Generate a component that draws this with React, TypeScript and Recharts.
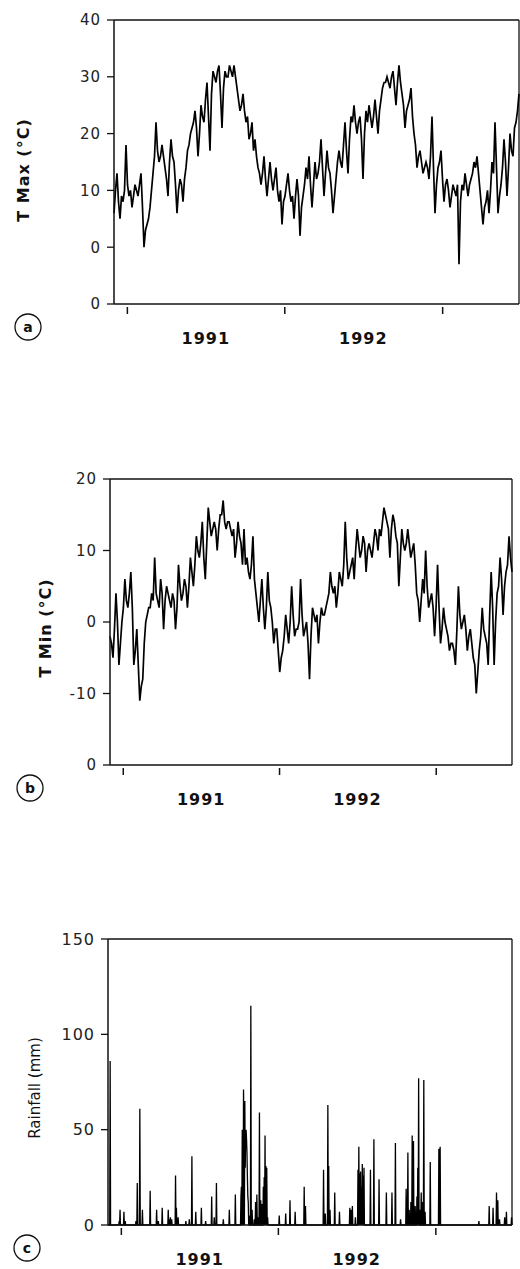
import { LineChart, Line, XAxis, YAxis, ReferenceLine } from 'recharts';

// record runs from 1 Dec 1990, one slot per day
const DAYS = 940;
const yearStartDays = [31, 396, 762];
const yearLabelDays = [213, 578];
const yearLabels = ['1991', '1992'];

// max temperature at even spacing (about 1.5 px apart)
const tmax = [
  6, 10, 13, 8, 5, 9, 8, 10, 18, 11, 9, 10, 7, 9, 11, 10, 9, 11, 13, 7,
  0, 3, 4, 5, 7, 10, 13, 16, 22, 17, 15, 16, 18, 16, 14, 12, 9, 15, 19, 16,
  15, 11, 6, 10, 12, 11, 8, 12, 14, 17, 18, 20, 21, 22, 24, 21, 16, 20, 25, 23,
  22, 26, 29, 23, 17, 27, 31, 30, 29, 31, 32, 27, 21, 28, 31, 30, 30, 32, 31, 30,
  32, 30, 28, 26, 24, 25, 27, 24, 22, 23, 19, 20, 22, 17, 19, 16, 14, 13, 11, 13,
  16, 12, 9, 12, 15, 12, 10, 12, 14, 10, 8, 10, 4, 8, 9, 11, 13, 10, 8, 9,
  5, 9, 12, 9, 2, 7, 9, 11, 14, 12, 16, 11, 7, 11, 15, 12, 13, 15, 19, 14,
  9, 13, 17, 14, 13, 10, 6, 9, 12, 15, 17, 15, 14, 18, 22, 17, 13, 19, 23, 22,
  25, 22, 20, 22, 23, 19, 12, 20, 24, 22, 25, 23, 21, 23, 26, 23, 20, 24, 26, 28,
  29, 29, 30, 29, 28, 30, 31, 28, 25, 29, 32, 29, 27, 25, 21, 24, 25, 26, 28, 23,
  20, 18, 14, 16, 17, 15, 13, 14, 15, 14, 12, 16, 23, 14, 6, 11, 14, 15, 17, 12,
  8, 11, 12, 10, 7, 9, 11, 10, 9, 11, -3, 8, 11, 10, 13, 11, 9, 11, 12, 13,
  15, 14, 16, 13, 10, 7, 4, 7, 8, 10, 6, 10, 15, 13, 22, 14, 6, 9, 11, 14,
  19, 15, 9, 14, 20, 17, 16, 21, 22, 24, 27,
];

// min temperature, same spacing
const tmin = [
  -2, -3, -5, -1, 4, 0, -6, -3, 0, 2, 6, 3, 2, 4, 7, 2, -6, -4, -1, -6,
  -11, -9, -8, -3, 0, 1, 2, 2, 4, 3, 9, 4, 3, 2, 6, 4, -1, 3, 5, 4,
  3, 2, 4, 3, -1, 2, 8, 5, 3, 4, 6, 5, 2, 5, 9, 7, 5, 8, 12, 10,
  9, 11, 14, 9, 6, 11, 16, 14, 12, 13, 14, 13, 10, 13, 15, 15, 17, 14, 13, 14,
  14, 13, 12, 13, 9, 11, 14, 12, 11, 8, 13, 8, 9, 7, 6, 8, 12, 6, 4, 2,
  0, 3, 6, 2, -1, 2, 7, 3, 2, 0, -3, -1, -1, -4, -7, -5, -4, -2, 1, -1,
  -3, 0, 5, 1, -2, -1, -1, 0, 6, 1, -2, -1, 0, -3, -8, -2, 2, 1, 0, 1,
  -3, 0, 2, 1, 1, 2, 3, 4, 7, 5, 4, 5, 2, 4, 7, 6, 5, 8, 14, 9,
  6, 7, 8, 9, 6, 10, 13, 11, 9, 10, 12, 11, 7, 10, 11, 10, 9, 11, 13, 12,
  10, 13, 12, 14, 16, 15, 14, 13, 9, 13, 15, 14, 12, 11, 5, 9, 13, 11, 10, 11,
  13, 11, 9, 10, 11, 8, 4, 3, 0, 3, 6, 4, 10, 5, 2, 3, 4, 2, -2, 2,
  8, 2, -3, -1, 2, 0, -1, -2, -4, -3, -3, -4, -6, -1, 5, 1, -1, 0, 1, -1,
  -4, -2, -1, -3, -5, -6, -10, -7, -4, -2, 2, -1, -2, -3, -6, 1, 7, 2, -6, 0,
  4, 5, 9, 6, 1, 5, 7, 8, 12, 9, 7,
];

// rain days (day index from 1 Dec 1990) and amounts
const rainDays = [
  5, 26, 28, 37, 40, 65, 68, 74, 80, 98, 113, 117, 126, 140, 143, 145, 148, 157, 159, 163, 181, 189, 195, 204, 217,
  227, 241, 247, 252, 268, 282, 296, 309, 310, 312, 313, 315, 316, 318, 319, 320, 321, 322, 323, 324, 325, 326, 328,
  332, 335, 340, 343, 346, 349, 352, 355, 358, 361, 363, 365, 367, 369, 371, 398, 413, 423, 435, 456, 459, 501, 505,
  511, 513, 516, 527, 538, 562, 565, 568, 575, 581, 583, 585, 587, 589, 591, 593, 595, 610, 618, 630, 647, 660, 668,
  680, 693, 697, 700, 704, 707, 710, 714, 718, 720, 722, 725, 728, 731, 734, 737, 749, 769, 772, 862, 886, 895, 903,
  906, 910, 922, 926, 938,
];
const rainMm = [
  86, 2, 8, 7, 2, 2, 22, 61, 8, 18, 8, 2, 9, 8, 3, 4, 3, 26, 9, 4, 2, 3, 36, 7, 9,
  2, 15, 4, 22, 3, 8, 16, 15, 20, 50, 35, 71, 45, 65, 30, 48, 50, 45, 38, 25, 15, 12, 5,
  115, 8, 3, 12, 16, 4, 59, 13, 11, 20, 25, 47, 31, 30, 4, 5, 6, 13, 7, 20, 10, 29, 6,
  63, 31, 8, 17, 7, 9, 8, 10, 4, 29, 41, 27, 28, 20, 32, 26, 30, 29, 45, 24, 17, 17, 43,
  3, 19, 38, 8, 12, 47, 44, 10, 15, 30, 77, 8, 17, 12, 76, 7, 33, 40, 41, 2, 10, 9, 17,
  13, 3, 4, 7, 4,
];

const tmaxTicks = [-10, 0, 10, 20, 30, 40];
const tmaxTickLabels = ['0', '0', '10', '20', '30', '40'];
const tminTicks = [-20, -10, 0, 10, 20];
const tminTickLabels = ['0', '-10', '0', '10', '20'];
const rainTicks = [0, 50, 100, 150];
const rainTickLabels = ['0', '50', '100', '150'];

const toSeries = (vals: number[]) =>
  vals.map((v, i) => ({ day: (i * (DAYS - 1)) / (vals.length - 1), v }));

const rainData = Array.from({ length: DAYS }, (_, d) => ({ day: d, v: 0 }));
rainDays.forEach((d, i) => {
  rainData[d].v = rainMm[i];
});

const FONT = '"DejaVu Sans", Verdana, sans-serif';

const YearTick = (props: any) => {
  const { x, y, payload } = props;
  const i = yearLabelDays.indexOf(payload.value);
  if (i >= 0) {
    return (
      <text x={x} y={y + 40} textAnchor="middle" fontFamily={FONT} fontWeight="bold" fontSize={16} letterSpacing={1} fill="#111">
        {yearLabels[i]}
      </text>
    );
  }
  return <line x1={x} x2={x} y1={y + 3} y2={y + 10} stroke="#111" strokeWidth={1.5} />;
};

type PanelProps = {
  top: number;
  height: number;
  margin: { top: number; right: number; bottom: number; left: number };
  yWidth: number;
  xHeight: number;
  data: { day: number; v: number }[];
  ticks: number[];
  labels: string[];
  strokeWidth: number;
  labelSize: number;
};

const Panel = ({ top, height, margin, yWidth, xHeight, data, ticks, labels, strokeWidth, labelSize }: PanelProps) => {
  const lo = ticks[0];
  const hi = ticks[ticks.length - 1];
  return (
    <div style={{ position: 'absolute', left: 0, top }}>
      <LineChart width={520} height={height} data={data} margin={margin}>
        <XAxis
          dataKey="day"
          type="number"
          domain={[0, DAYS - 1]}
          ticks={[...yearStartDays, ...yearLabelDays].sort((a, b) => a - b)}
          interval={0}
          tick={<YearTick />}
          tickLine={false}
          tickSize={0}
          tickMargin={0}
          height={xHeight}
          axisLine={{ stroke: '#111', strokeWidth: 1.5 }}
        />
        <YAxis
          type="number"
          domain={[lo, hi]}
          ticks={ticks}
          interval={0}
          width={yWidth}
          tickSize={7}
          tickMargin={6}
          tickFormatter={(_v: number, i: number) => labels[i]}
          tick={{ fontSize: labelSize, fill: '#222', fontFamily: FONT, letterSpacing: 1 }}
          tickLine={{ stroke: '#111', strokeWidth: 1.3 }}
          axisLine={{ stroke: '#111', strokeWidth: 1.5 }}
        />
        <ReferenceLine y={hi} stroke="#111" strokeWidth={1.3} />
        <ReferenceLine x={DAYS - 1} stroke="#111" strokeWidth={1.3} />
        <Line
          type="linear"
          dataKey="v"
          stroke="#000"
          strokeWidth={strokeWidth}
          dot={false}
          isAnimationActive={false}
        />
      </LineChart>
    </div>
  );
};

const App = () => {
  return (
    <div style={{ position: 'absolute', left: 0, top: 0, width: 520, height: 1269, background: '#fff', overflow: 'hidden' }}>
      <Panel
        top={0}
        height={360}
        margin={{ top: 20, right: 1, bottom: 6, left: 0 }}
        yWidth={114}
        xHeight={50}
        data={toSeries(tmax)}
        ticks={tmaxTicks}
        labels={tmaxTickLabels}
        strokeWidth={1.7}
        labelSize={15}
      />
      <Panel
        top={460}
        height={380}
        margin={{ top: 19, right: 8, bottom: 25, left: 0 }}
        yWidth={110}
        xHeight={50}
        data={toSeries(tmin)}
        ticks={tminTicks}
        labels={tminTickLabels}
        strokeWidth={1.7}
        labelSize={15}
      />
      <Panel
        top={920}
        height={349}
        margin={{ top: 19, right: 8, bottom: 0, left: 0 }}
        yWidth={108}
        xHeight={44}
        data={rainData}
        ticks={rainTicks}
        labels={rainTickLabels}
        strokeWidth={1.3}
        labelSize={16}
      />
      <svg width={520} height={1269} style={{ position: 'absolute', left: 0, top: 0, pointerEvents: 'none' }}>
        <g fontFamily={FONT} fill="#111">
          <text transform="translate(23,170) rotate(-90)" textAnchor="middle" dominantBaseline="central" fontWeight="bold" fontSize={16} letterSpacing={1}>
            T Max (°C)
          </text>
          <text transform="translate(45,628) rotate(-90)" textAnchor="middle" dominantBaseline="central" fontWeight="bold" fontSize={16} letterSpacing={1}>
            T Min (°C)
          </text>
          <text transform="translate(35,1088) rotate(-90)" textAnchor="middle" dominantBaseline="central" fontSize={15}>
            Rainfall (mm)
          </text>
        </g>
        {[
          { cx: 28, cy: 327, t: 'a' },
          { cx: 30, cy: 788, t: 'b' },
          { cx: 27, cy: 1248, t: 'c' },
        ].map((c) => (
          <g key={c.t}>
            <circle cx={c.cx} cy={c.cy} r={13} fill="none" stroke="#111" strokeWidth={1.3} />
            <text x={c.cx} y={c.cy} textAnchor="middle" dominantBaseline="central" fontFamily={FONT} fontWeight="bold" fontSize={14} fill="#111">
              {c.t}
            </text>
          </g>
        ))}
      </svg>
    </div>
  );
};

export default App;
